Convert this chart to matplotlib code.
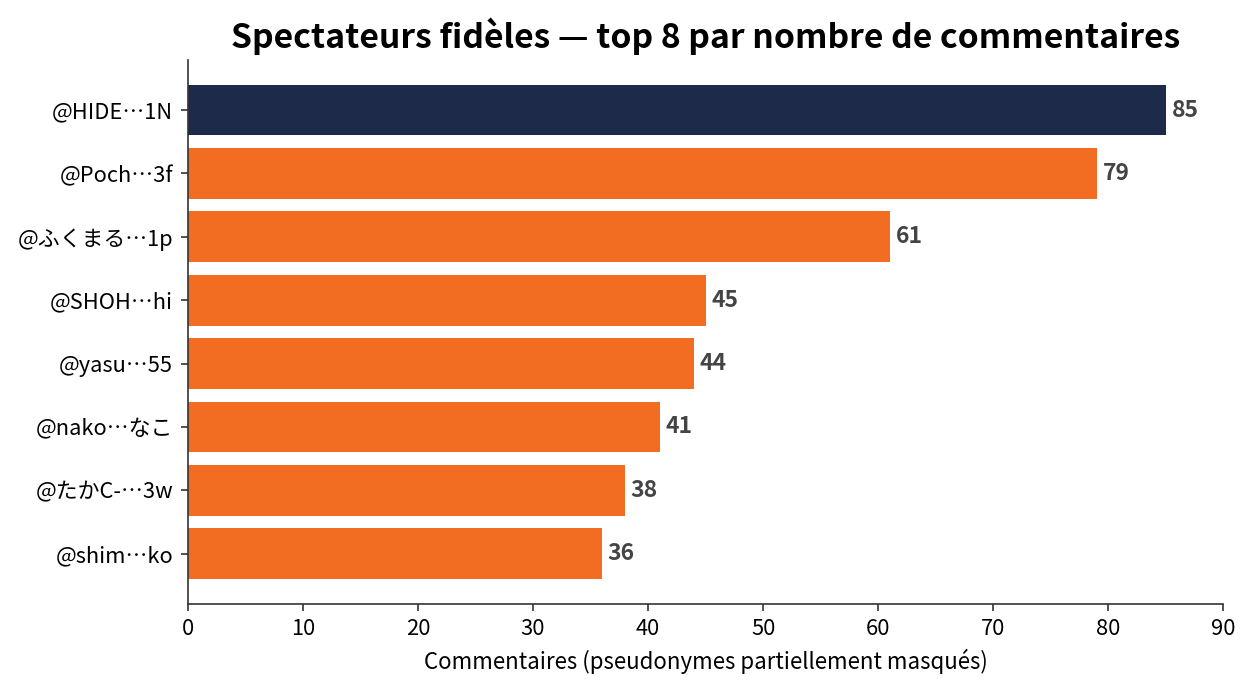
import matplotlib
matplotlib.use("Agg")
import matplotlib.pyplot as plt

plt.rcParams["font.family"] = ["Noto Sans CJK JP", "DejaVu Sans"]

# top commenters, highest first
users = ["@HIDE…1N", "@Poch…3f", "@ふくまる…1p", "@SHOH…hi",
         "@yasu…55", "@nako…なこ", "@たかC-…3w", "@shim…ko"]
counts = [85, 79, 61, 45, 44, 41, 38, 36]

navy = "#1e2a4a"
orange = "#f26c22"
colors = [navy] + [orange] * (len(users) - 1)

fig, ax = plt.subplots(figsize=(8.4, 4.6), dpi=150)
ypos = list(range(len(users)))
bars = ax.barh(ypos, counts, height=0.8, color=colors)
ax.invert_yaxis()
ax.set_yticks(ypos)
ax.set_yticklabels(users, fontsize=10.5)
ax.set_xlim(0, 90)
ax.tick_params(axis="x", labelsize=10.5)

for b, v in zip(bars, counts):
    ax.text(b.get_width() + 0.5, b.get_y() + b.get_height() / 2, str(v),
            va="center", ha="left", fontsize=11, fontweight="bold", color="#444444")

ax.spines["top"].set_visible(False)
ax.spines["right"].set_visible(False)
for s in ("left", "bottom"):
    ax.spines[s].set_color("#333333")
ax.tick_params(colors="#333333", labelcolor="black")
ax.set_xlabel("Commentaires (pseudonymes partiellement masqués)", fontsize=10.7)
ax.set_title("Spectateurs fidèles — top 8 par nombre de commentaires",
             fontsize=16.2, fontweight="bold")

fig.subplots_adjust(left=0.149, right=0.971, top=0.913, bottom=0.125)
fig.savefig("out.png", dpi=150)
